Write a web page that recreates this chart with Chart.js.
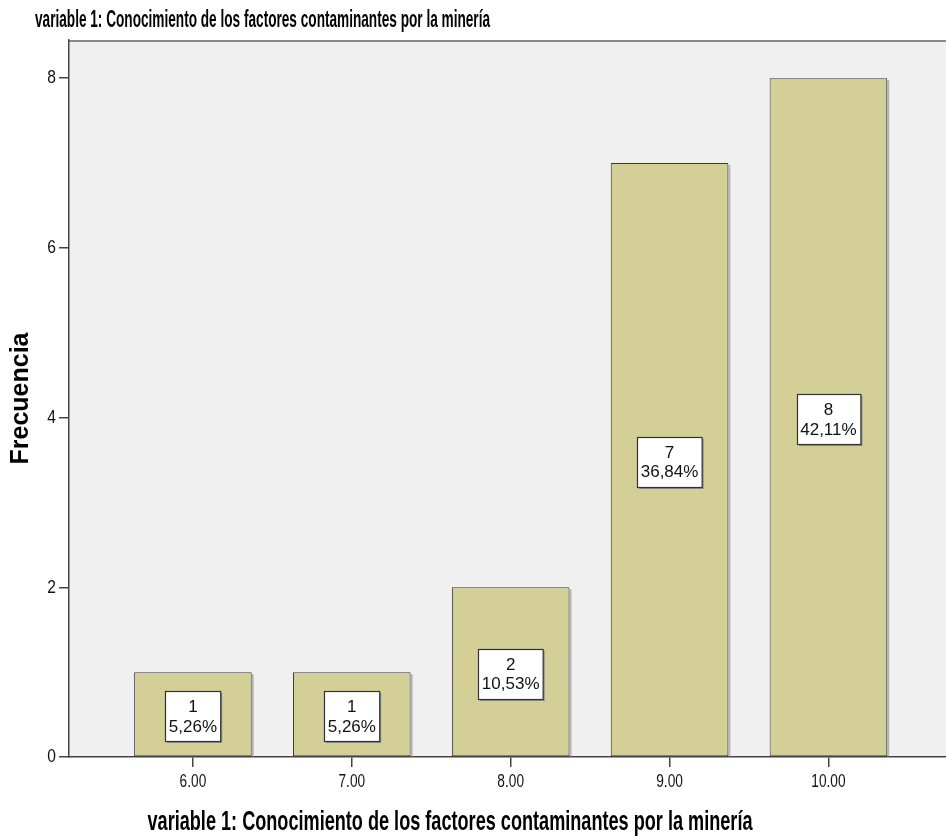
<!DOCTYPE html>
<html>
<head>
<meta charset="utf-8">
<script src="https://cdn.jsdelivr.net/npm/chart.js@4/dist/chart.umd.min.js"></script>
<style>
  html, body { margin: 0; padding: 0; background: #ffffff; }
  #wrap { width: 946px; height: 838px; }
</style>
</head>
<body>
<div id="wrap"><canvas id="c" width="946" height="838"></canvas></div>
<script>
const categories = [6, 7, 8, 9, 10];
const tickLabels = ['6.00', '7.00', '8.00', '9.00', '10.00'];
const counts = [1, 1, 2, 7, 8];
const percentLabels = ['5,26%', '5,26%', '10,53%', '36,84%', '42,11%'];
const yTicks = [0, 2, 4, 6, 8];
const yTickLabels = ['0', '2', '4', '6', '8'];
const chartTitle = 'variable 1: Conocimiento de los factores contaminantes por la minería';
const xAxisTitle = 'variable 1: Conocimiento de los factores contaminantes por la minería';
const yAxisTitle = 'Frecuencia';

const SANS = '"Liberation Sans", Arial, sans-serif';

function narrowText(ctx, text, x, y, sx, align) {
  ctx.save();
  ctx.translate(x, y);
  ctx.scale(sx, 1);
  ctx.textAlign = align;
  ctx.fillText(text, 0, 0);
  ctx.restore();
}

const plotBg = {
  id: 'plotBg',
  beforeDraw(chart) {
    const { ctx, chartArea: a } = chart;
    ctx.save();
    ctx.fillStyle = '#f0f0f0';
    ctx.fillRect(a.left, a.top, a.right - a.left, a.bottom - a.top);
    ctx.strokeStyle = '#8a8a8a';
    ctx.lineWidth = 2;
    ctx.beginPath();
    ctx.moveTo(a.left, a.top + 1);
    ctx.lineTo(a.right, a.top + 1);
    ctx.stroke();
    ctx.restore();
  },
  beforeDatasetsDraw(chart) {
    const { ctx } = chart;
    const meta = chart.getDatasetMeta(0);
    ctx.save();
    ctx.fillStyle = '#b4b4b4';
    meta.data.forEach(bar => {
      const right = bar.x + bar.width / 2;
      ctx.fillRect(right, bar.y + 2, 2, bar.base - bar.y - 2);
    });
    ctx.restore();
  }
};

const barLabels = {
  id: 'barLabels',
  afterDatasetsDraw(chart) {
    const { ctx } = chart;
    const meta = chart.getDatasetMeta(0);
    ctx.save();
    ctx.font = '17px ' + SANS;
    meta.data.forEach((bar, i) => {
      const l1 = String(counts[i]);
      const l2 = percentLabels[i];
      const w = Math.max(ctx.measureText(l1).width, ctx.measureText(l2).width) + 7;
      const h = 50;
      const cx = bar.x;
      const cy = (bar.y + bar.base) / 2 + 2;
      const x0 = Math.round(cx - w / 2) + 0.5;
      const y0 = Math.round(cy - h / 2) + 0.5;
      ctx.fillStyle = '#8c8c8c';
      ctx.fillRect(x0 + 1.5, y0 + 1.5, w, h);
      ctx.fillStyle = '#ffffff';
      ctx.fillRect(x0, y0, w, h);
      ctx.strokeStyle = '#333333';
      ctx.lineWidth = 1.2;
      ctx.strokeRect(x0, y0, w, h);
      ctx.fillStyle = '#111111';
      ctx.textAlign = 'center';
      ctx.textBaseline = 'middle';
      ctx.fillText(l1, cx, cy - 8.5);
      ctx.fillText(l2, cx, cy + 11);
    });
    ctx.restore();
  }
};

const textLayer = {
  id: 'textLayer',
  afterDraw(chart) {
    const { ctx } = chart;
    const xs = chart.scales.x, ys = chart.scales.y;
    ctx.save();
    ctx.fillStyle = '#111111';
    ctx.textBaseline = 'middle';
    ctx.font = '19px ' + SANS;
    categories.forEach((v, i) => {
      narrowText(ctx, tickLabels[i], xs.getPixelForValue(v), 782, 0.72, 'center');
    });
    ctx.font = '19px ' + SANS;
    yTicks.forEach((v, i) => {
      narrowText(ctx, yTickLabels[i], 56, ys.getPixelForValue(v), 0.82, 'right');
    });
    ctx.fillStyle = '#000000';
    ctx.textBaseline = 'alphabetic';
    ctx.textAlign = 'left';
    ctx.font = 'bold 23px ' + SANS;
    ctx.fillText(chartTitle, 35, 27, 455);
    ctx.textAlign = 'center';
    ctx.font = 'bold 28px ' + SANS;
    ctx.fillText(xAxisTitle, 450, 830, 605);
    ctx.restore();
  }
};

new Chart(document.getElementById('c'), {
  type: 'bar',
  data: {
    datasets: [{
      data: categories.map((c, i) => ({ x: c, y: counts[i] })),
      backgroundColor: '#d3cf97',
      borderColor: '#3a3a3a',
      borderWidth: 1,
      borderSkipped: false,
      categoryPercentage: 1,
      barPercentage: 0.74
    }]
  },
  options: {
    responsive: false,
    animation: false,
    layout: { padding: { left: 0, top: 40, right: 0, bottom: 0 } },
    plugins: {
      legend: { display: false },
      tooltip: { enabled: false },
      title: { display: false }
    },
    scales: {
      x: {
        type: 'linear',
        offset: false,
        min: 5.22,
        max: 10.74,
        afterBuildTicks(scale) { scale.ticks = categories.map(v => ({ value: v })); },
        afterFit(scale) { scale.height = 81; },
        ticks: { display: false },
        grid: { offset: false, drawOnChartArea: false, drawTicks: true, tickLength: 10, color: '#444', lineWidth: 1.5 },
        border: { display: true, color: '#444', width: 1.5 }
      },
      y: {
        min: 0,
        max: 8.45,
        afterBuildTicks(scale) { scale.ticks = yTicks.map(v => ({ value: v })); },
        afterFit(scale) { scale.width = 69; },
        ticks: { display: false },
        grid: { drawOnChartArea: false, drawTicks: true, tickLength: 10, color: '#444', lineWidth: 1.5 },
        border: { display: true, color: '#444', width: 1.5 },
        title: {
          display: true,
          text: yAxisTitle,
          color: '#000',
          font: { family: SANS, size: 25, weight: 'bold' },
          padding: { top: 6, bottom: 0 }
        }
      }
    }
  },
  plugins: [plotBg, barLabels, textLayer]
});
</script>
</body>
</html>
